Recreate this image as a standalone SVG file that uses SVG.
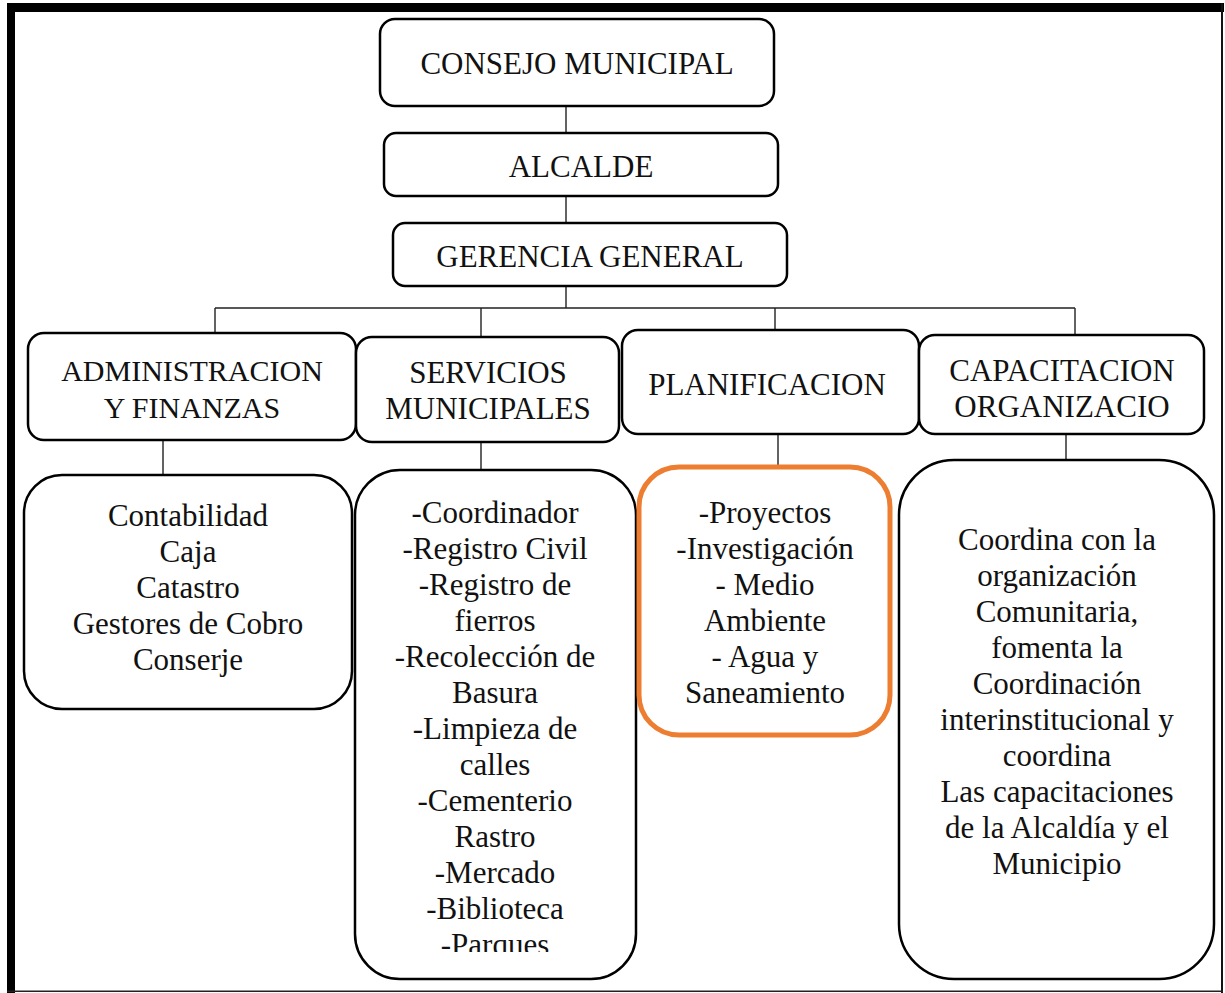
<svg xmlns="http://www.w3.org/2000/svg" width="1225" height="993" viewBox="0 0 1225 993">
<style>
.box{fill:#fff;stroke:#000;stroke-width:2.5}
.orange{fill:#fff;stroke:#ED7D31;stroke-width:5}
.c{stroke:#222;stroke-width:1.4;fill:none}
</style>
<defs>
<clipPath id="servClip"><rect x="340" y="460" width="320" height="492"/></clipPath>
</defs>
<rect x="0" y="0" width="1225" height="993" fill="#fff"/>
<g id="frame">
<rect x="7" y="3" width="1217" height="9" fill="#000"/>
<rect x="7" y="3" width="8" height="990" fill="#000"/>
<rect x="1221" y="3" width="2" height="990" fill="#111"/>
<rect x="7" y="990.5" width="1216" height="1.5" fill="#222"/>
</g>
<g id="connectors">
<path class="c" d="M566 106 V133 M566 197 V223 M566 286 V308 M215 308 H1075 M215 308 V333 M481 308 V337 M775 308 V330 M1075 308 V335"/>
<path class="c" d="M163 440 V475 M481 438 V470 M778 434 V467 M1066 434 V465"/>
</g>
<g font-family="Liberation Serif, Times New Roman, serif" font-size="31" fill="#111" text-anchor="middle">
<g id="consejo">
<rect class="box" x="380" y="19" width="394" height="87" rx="15"/>
<text x="577" y="74">CONSEJO MUNICIPAL</text>
</g>
<g id="alcalde">
<rect class="box" x="384" y="133" width="394" height="63" rx="12"/>
<text x="581" y="177">ALCALDE</text>
</g>
<g id="gerencia">
<rect class="box" x="393" y="223" width="394" height="63" rx="12"/>
<text x="590" y="267">GERENCIA GENERAL</text>
</g>
<g id="admin">
<rect class="box" x="28" y="333" width="328" height="107" rx="16"/>
<text x="192" y="381" font-size="30">ADMINISTRACION</text>
<text x="192" y="418" font-size="30">Y FINANZAS</text>
</g>
<g id="servicios">
<rect class="box" x="356" y="337" width="263" height="105" rx="16"/>
<text x="488" y="383">SERVICIOS</text>
<text x="488" y="419">MUNICIPALES</text>
</g>
<g id="planificacion">
<rect class="box" x="622" y="330" width="297" height="104" rx="16"/>
<text x="767" y="395">PLANIFICACION</text>
</g>
<g id="capacitacion">
<rect class="box" x="919" y="335" width="285" height="99" rx="16"/>
<text x="1062" y="381">CAPACITACION</text>
<text x="1062" y="417">ORGANIZACIO</text>
</g>
<g id="admin-list">
<rect class="box" x="24" y="475" width="328" height="234" rx="38"/>
<text x="188" y="526">Contabilidad</text>
<text x="188" y="562">Caja</text>
<text x="188" y="598">Catastro</text>
<text x="188" y="634">Gestores de Cobro</text>
<text x="188" y="670">Conserje</text>
</g>
<g id="servicios-list">
<rect class="box" x="355" y="470" width="281" height="509" rx="45"/>
<g clip-path="url(#servClip)">
<text x="495" y="523">-Coordinador</text>
<text x="495" y="559">-Registro Civil</text>
<text x="495" y="595">-Registro de</text>
<text x="495" y="631">fierros</text>
<text x="495" y="667">-Recolección de</text>
<text x="495" y="703">Basura</text>
<text x="495" y="739">-Limpieza de</text>
<text x="495" y="775">calles</text>
<text x="495" y="811">-Cementerio</text>
<text x="495" y="847">Rastro</text>
<text x="495" y="883">-Mercado</text>
<text x="495" y="919">-Biblioteca</text>
<text x="495" y="955">-Parques</text>
</g>
</g>
<g id="planificacion-list">
<rect class="orange" x="639" y="467" width="251" height="268" rx="40"/>
<text x="765" y="523">-Proyectos</text>
<text x="765" y="559">-Investigación</text>
<text x="765" y="595">- Medio</text>
<text x="765" y="631">Ambiente</text>
<text x="765" y="667">- Agua y</text>
<text x="765" y="703">Saneamiento</text>
</g>
<g id="capacitacion-list">
<rect class="box" x="899" y="460" width="315" height="519" rx="55"/>
<text x="1057" y="550">Coordina con la</text>
<text x="1057" y="586">organización</text>
<text x="1057" y="622">Comunitaria,</text>
<text x="1057" y="658">fomenta la</text>
<text x="1057" y="694">Coordinación</text>
<text x="1057" y="730">interinstitucional y</text>
<text x="1057" y="766">coordina</text>
<text x="1057" y="802">Las capacitaciones</text>
<text x="1057" y="838">de la Alcaldía y el</text>
<text x="1057" y="874">Municipio</text>
</g>
</g>
</svg>
